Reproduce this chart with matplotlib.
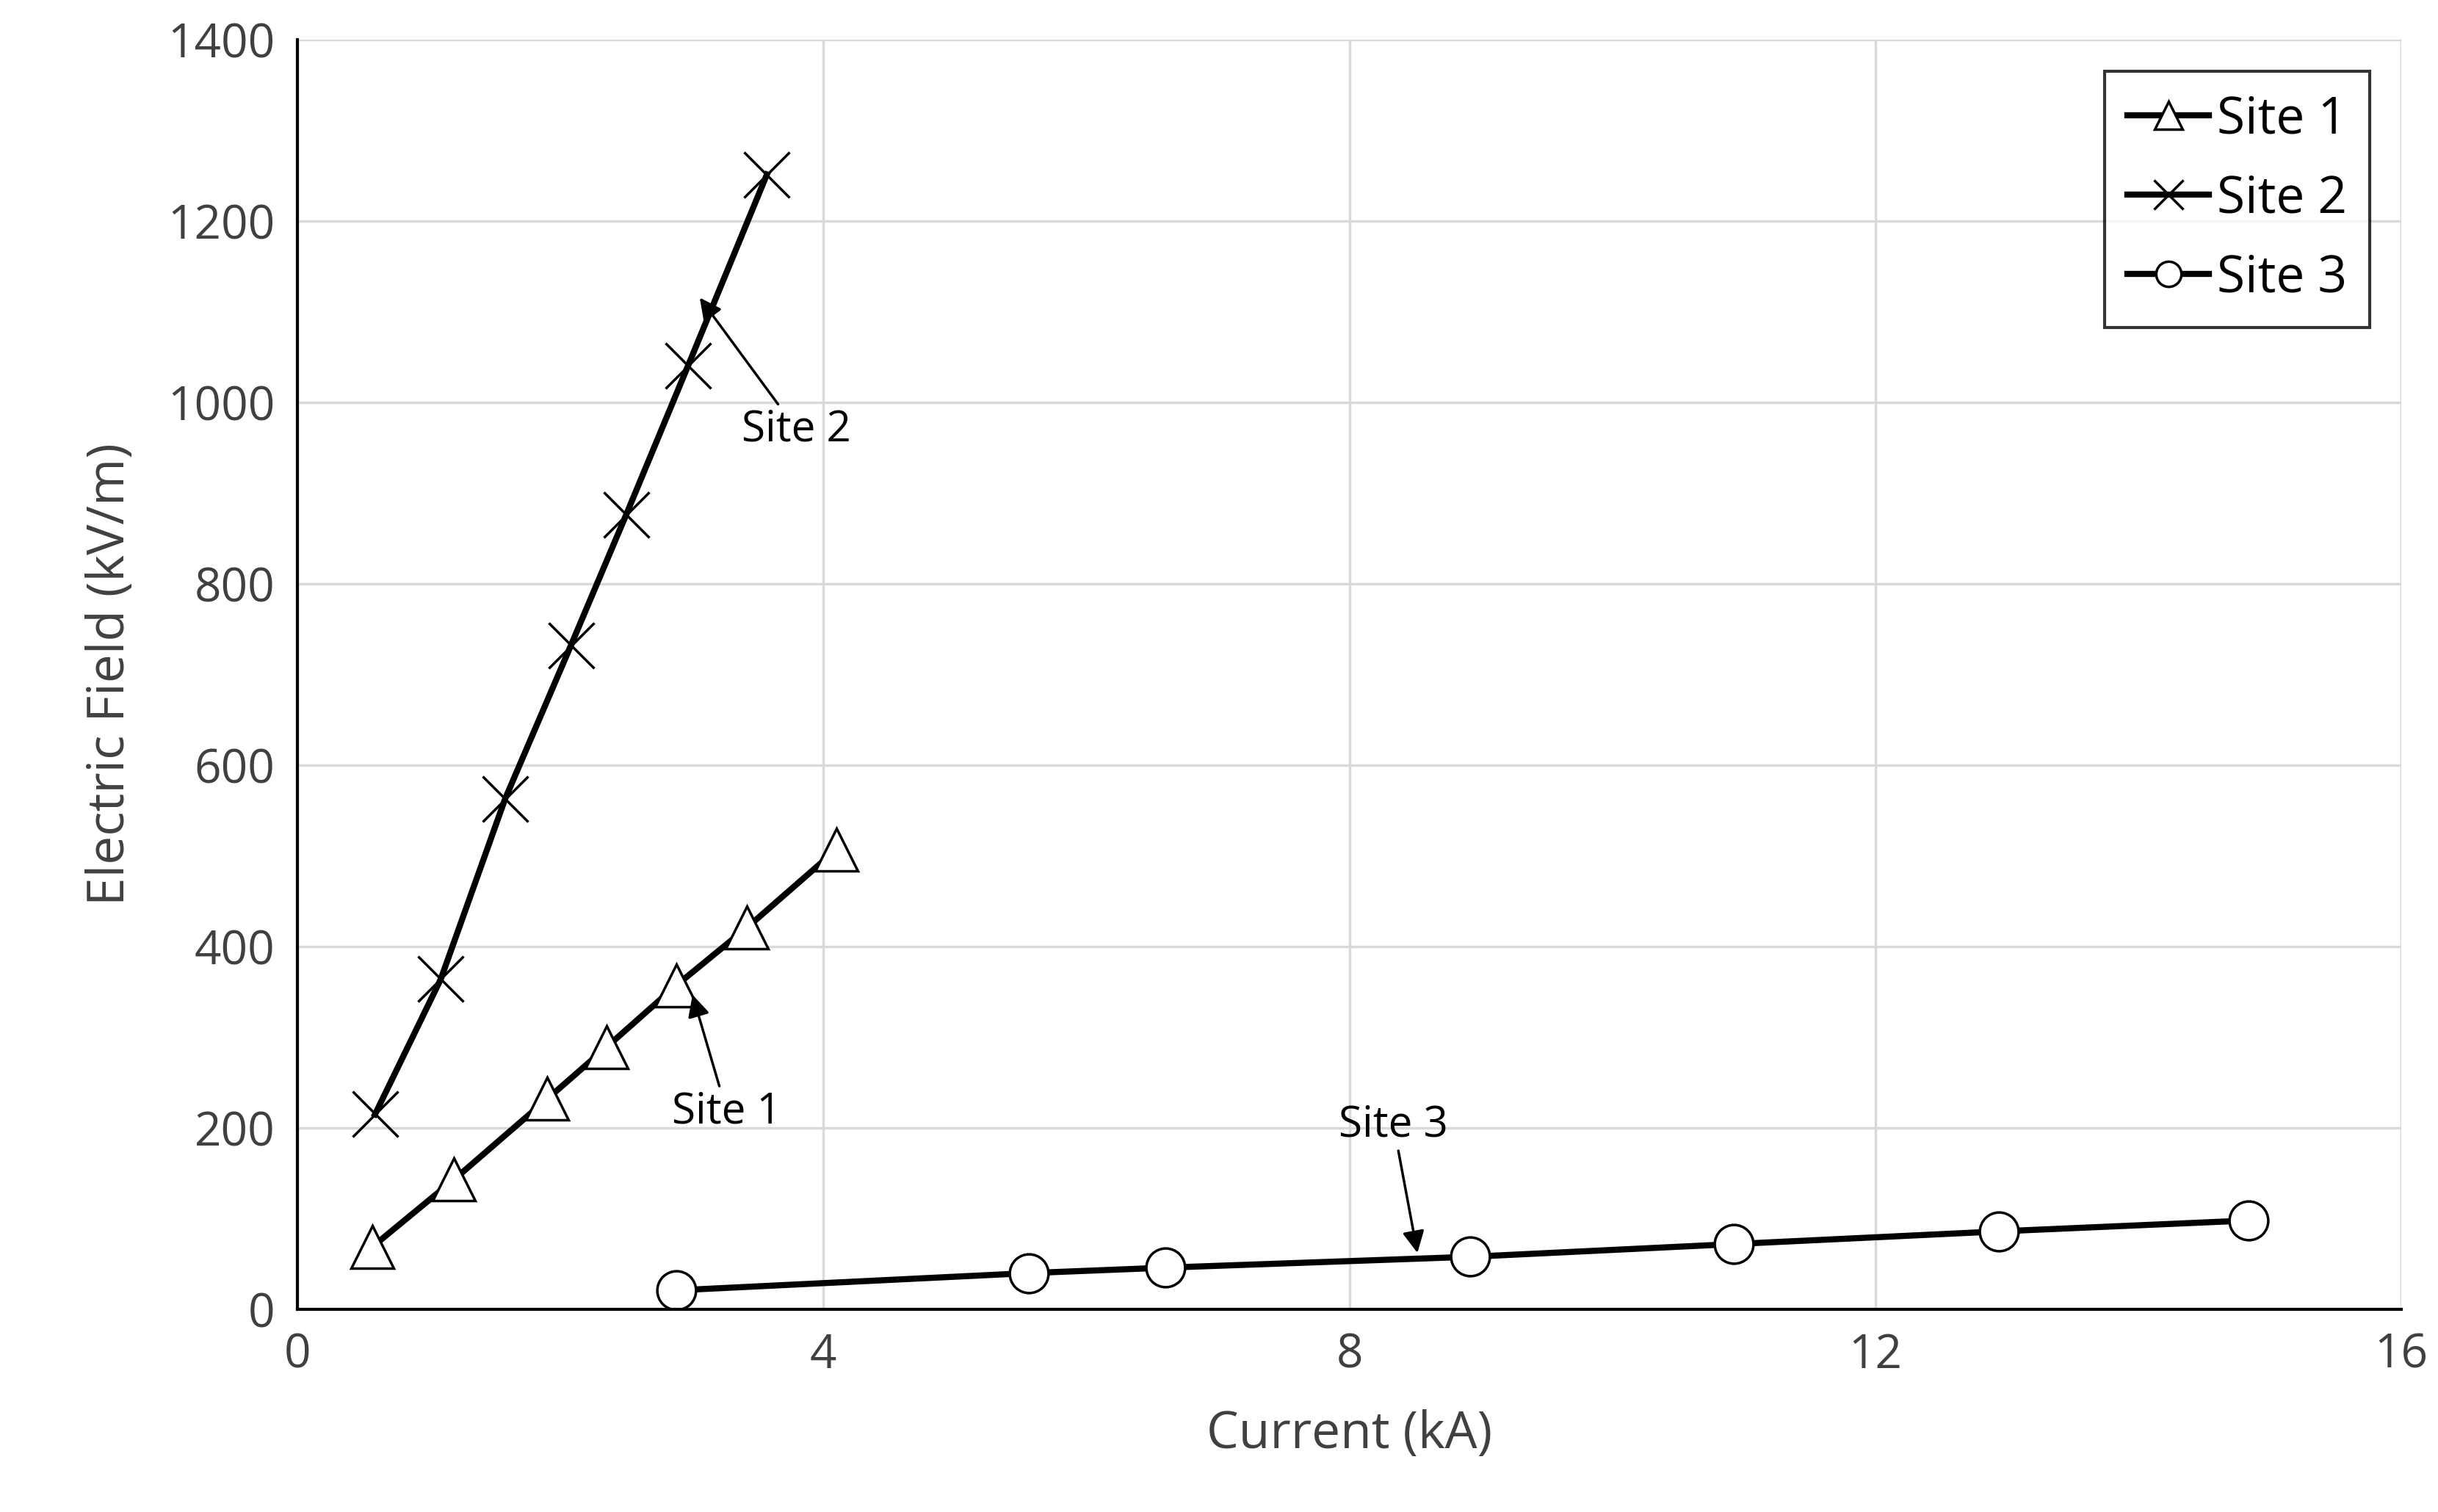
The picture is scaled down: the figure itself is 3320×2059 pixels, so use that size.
import matplotlib
matplotlib.use("Agg")
import matplotlib.pyplot as plt

site1_x = [0.57, 1.19, 1.90, 2.35, 2.88, 3.42, 4.10]
site1_y = [69, 143, 232, 289, 357, 421, 507]
site2_x = [0.59, 1.09, 1.58, 2.08, 2.50, 2.97, 3.57]
site2_y = [215, 364, 563, 732, 876, 1040, 1251]
site3_x = [2.88, 5.56, 6.60, 8.92, 10.92, 12.94, 14.84]
site3_y = [21, 40, 46, 58, 72, 86, 98]

plt.rcParams["font.family"] = ["Open Sans", "DejaVu Sans"]
fig = plt.figure(figsize=(33.2, 20.59), dpi=100)
ax = fig.add_axes([0.122, 0.134, 0.863, 0.840])

common = dict(color="black", lw=6, mfc="white", mec="black", mew=2.5)
ax.plot(site1_x, site1_y, marker="^", ms=42, label="Site 1", **common)
ax.plot(site2_x, site2_y, marker="x", ms=44, label="Site 2", **common)
ax.plot(site3_x, site3_y, marker="o", ms=38, label="Site 3", **common)

arrow = dict(arrowstyle="-|>", color="black", lw=2.5, mutation_scale=45)
ax.annotate("Site 2", xy=(3.05, 1117), xytext=(3.38, 970), fontsize=42,
            ha="left", va="center", arrowprops=arrow)
ax.annotate("Site 1", xy=(3.0, 349), xytext=(2.85, 218), fontsize=42,
            ha="left", va="center", arrowprops=arrow)
ax.annotate("Site 3", xy=(8.52, 60), xytext=(7.92, 203), fontsize=42,
            ha="left", va="center", arrowprops=arrow)

ax.set_xlim(0, 16)
ax.set_ylim(0, 1400)
ax.set_xticks([0, 4, 8, 12, 16])
ax.set_yticks(range(0, 1401, 200))
ax.grid(True, color="#d9d9d9", lw=2.5)
ax.set_axisbelow(True)
for s in ["top", "right"]:
    ax.spines[s].set_visible(False)
for s in ["left", "bottom"]:
    ax.spines[s].set_linewidth(3)
ax.tick_params(labelsize=46, length=0, pad=22)
ax.set_xlabel("Current (kA)", fontsize=50, color="#404040", labelpad=30)
ax.set_ylabel("Electric Field (kV/m)", fontsize=50, color="#404040", labelpad=30)
for t in ax.get_xticklabels() + ax.get_yticklabels():
    t.set_color("#404040")

leg = ax.legend(loc="upper right", bbox_to_anchor=(0.997, 0.995), fontsize=50,
                frameon=True, fancybox=False, edgecolor="black", markerscale=0.65,
                handlelength=1.6, labelspacing=0.55, borderpad=0.45, handletextpad=0.15)
leg.get_frame().set_linewidth(3)

fig.savefig("out.png", dpi=100)
